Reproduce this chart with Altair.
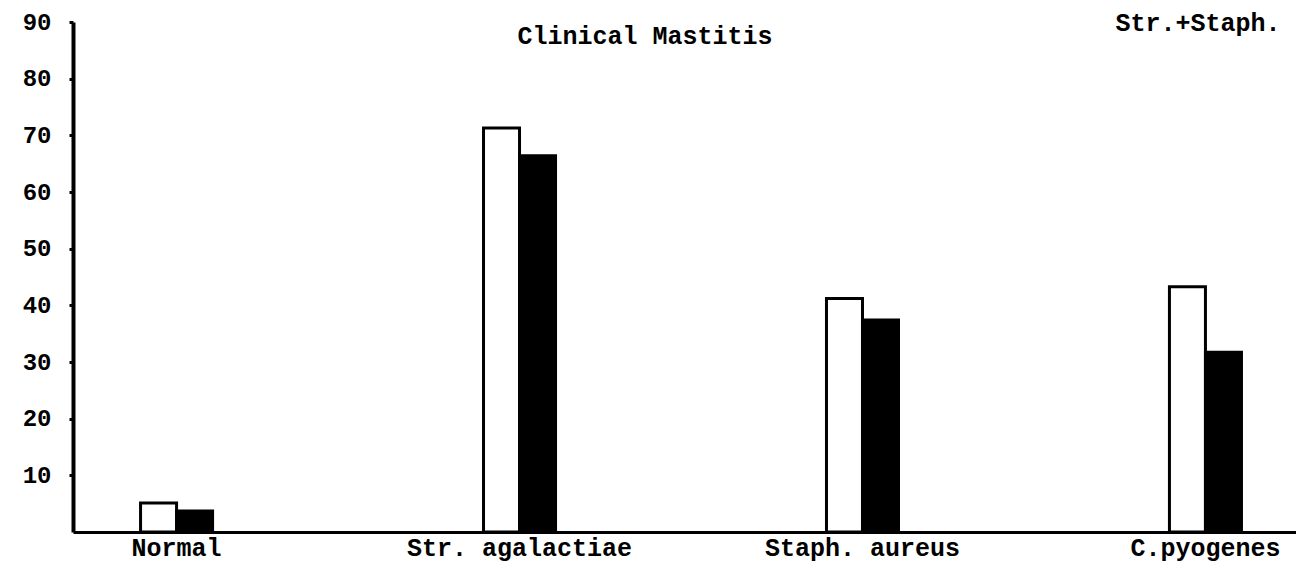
import altair as alt
import pandas as pd

categories = ["Normal", "Str. agalactiae", "Staph. aureus", "C.pyogenes"]
series = ["open", "filled"]
open_values = [5.1, 71.3, 41.2, 43.3]
filled_values = [3.7, 66.4, 37.4, 31.7]
y_ticks = [10, 20, 30, 40, 50, 60, 70, 80, 90]

rows = []
for c, o, f in zip(categories, open_values, filled_values):
    rows.append({"category": c, "series": "open", "value": o})
    rows.append({"category": c, "series": "filled", "value": f})
df = pd.DataFrame(rows)

FONT = "Liberation Mono"

xscale = alt.Scale(domain=categories, paddingInner=0.58, paddingOuter=0.073, align=0.63)

bars = alt.Chart(df).mark_bar(stroke="black", strokeWidth=3).encode(
    x=alt.X("category:N", sort=categories, scale=xscale,
            axis=alt.Axis(title=None, labelAngle=0, labelFont=FONT, labelFontSize=25,
                          labelFontWeight="bold", labelColor="black", domainColor="black",
                          domainWidth=3, ticks=False, labelPadding=3, labelLimit=0,
                          grid=False)),
    xOffset=alt.XOffset("series:N", sort=series,
                        scale=alt.Scale(domain=series, paddingInner=0, paddingOuter=1)),
    y=alt.Y("value:Q", scale=alt.Scale(domain=[0, 90], nice=False),
            axis=alt.Axis(title=None, values=y_ticks, labelFont=FONT, labelFontSize=24,
                          labelFontWeight="bold", labelColor="black", domainColor="black",
                          domainWidth=4, tickColor="black", tickSize=4, tickWidth=3,
                          labelPadding=18, grid=False)),
    fill=alt.Fill("series:N", scale=alt.Scale(domain=series, range=["white", "black"]), legend=None),
)

notes = pd.DataFrame({"label": ["Clinical Mastitis"]})
title_text = alt.Chart(notes).mark_text(font=FONT, fontSize=25, fontWeight="bold", color="black",
                                        align="center", baseline="middle").encode(
    x=alt.value(572), y=alt.value(14), text="label:N")

notes2 = pd.DataFrame({"label": ["Str.+Staph."]})
corner_text = alt.Chart(notes2).mark_text(font=FONT, fontSize=25, fontWeight="bold", color="black",
                                          align="center", baseline="middle").encode(
    x=alt.value(1125), y=alt.value(1), text="label:N")

chart = alt.layer(bars, title_text, corner_text).properties(
    width=1223, height=510,
    padding={"left": 65, "top": 14, "right": 0, "bottom": 36},
    autosize=alt.AutoSizeParams(type="none"),
    background="white",
).configure_view(stroke=None)

chart.save("out.html", embed_options={"renderer": "svg", "actions": False})
